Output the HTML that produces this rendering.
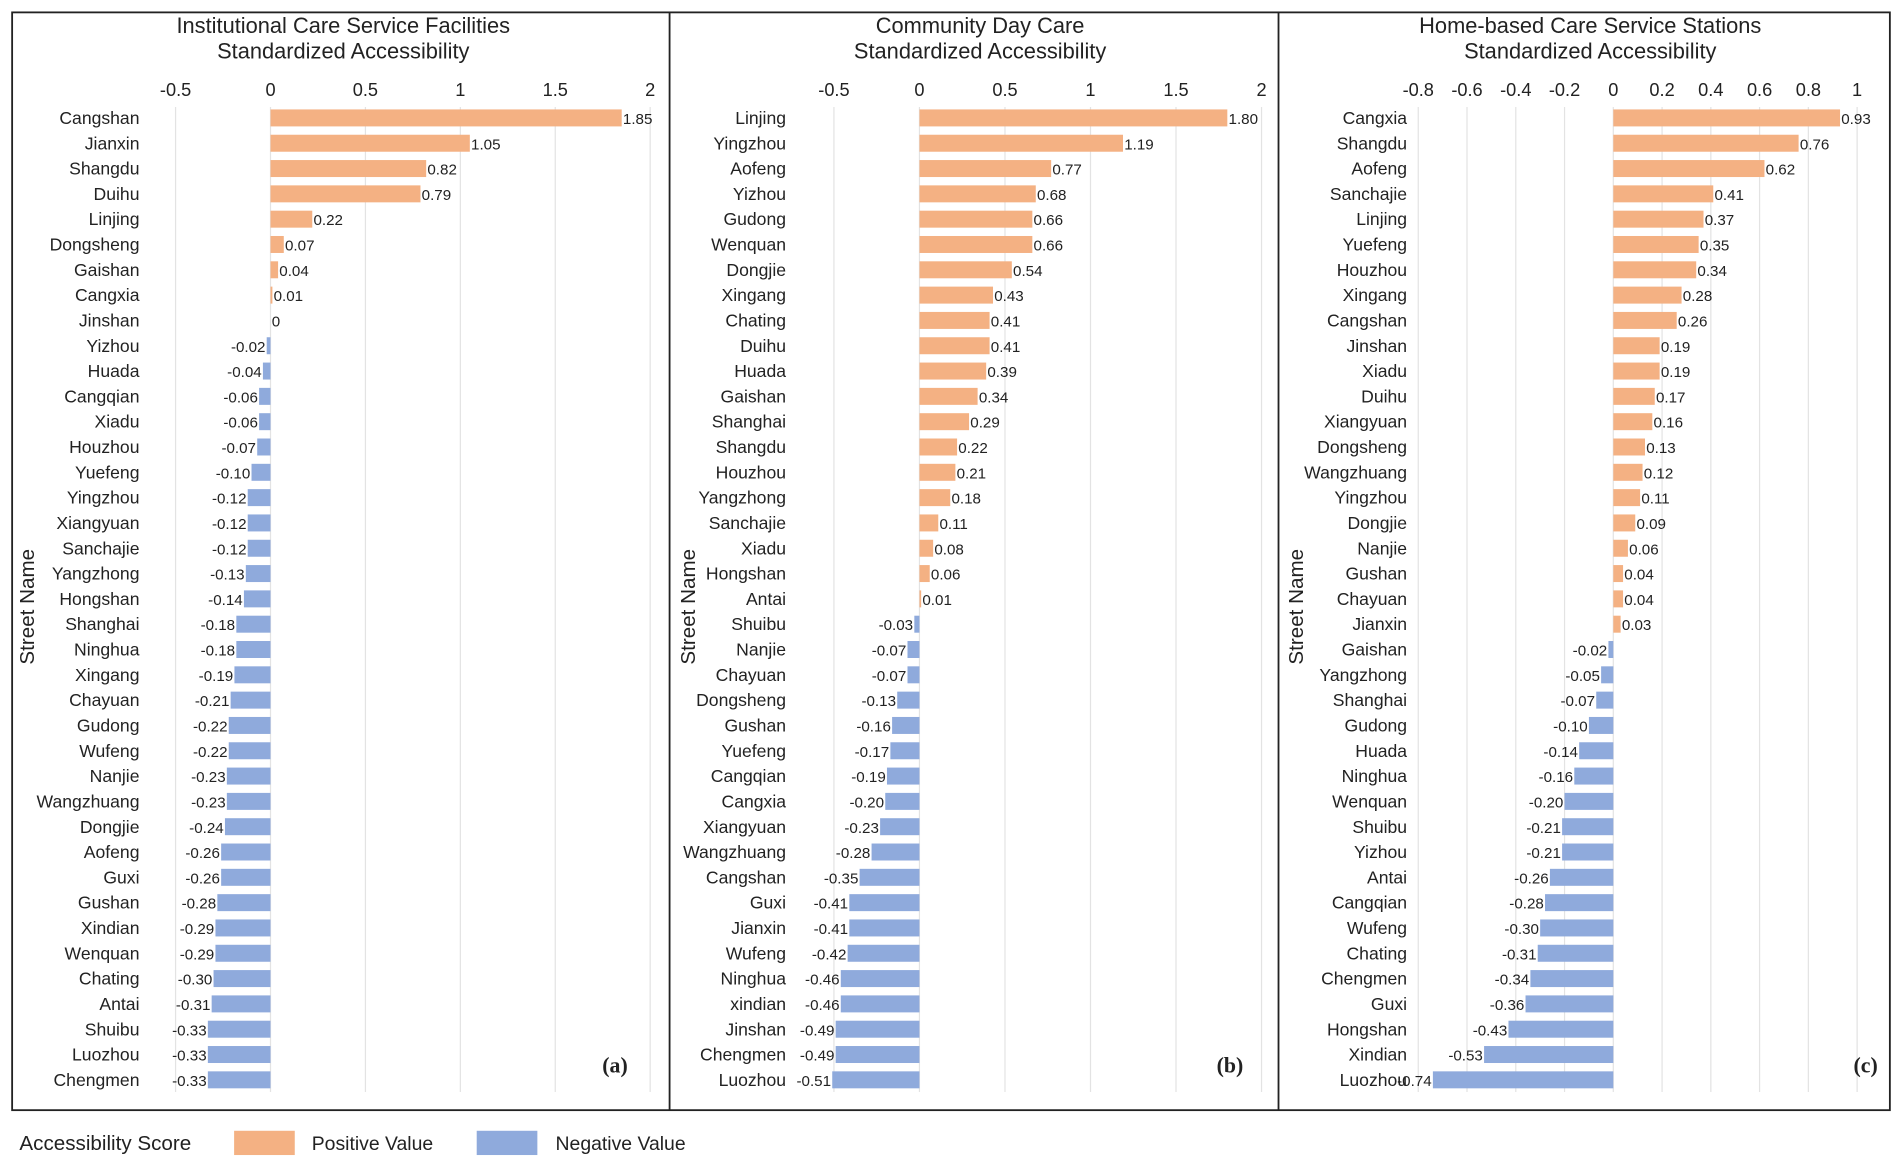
<!DOCTYPE html>
<html><head><meta charset="utf-8"><style>
html,body{margin:0;padding:0;background:#fff}
svg{display:block}
text{font-family:"Liberation Sans",sans-serif;fill:#222}
</style></head><body>
<svg id="chart" width="1902" height="1165" viewBox="0 0 1568 960" xmlns="http://www.w3.org/2000/svg">
<rect x="10" y="10" width="1548" height="905" fill="#fff" stroke="#222" stroke-width="1.5"/>
<line x1="552" y1="10" x2="552" y2="915" stroke="#222" stroke-width="1.5"/>
<line x1="1054" y1="10" x2="1054" y2="915" stroke="#222" stroke-width="1.5"/>
<g>
<text x="16" y="948" font-size="17">Accessibility Score</text>
<rect x="193" y="932" width="50" height="20" fill="#F4B183"/>
<text x="257" y="948" font-size="16">Positive Value</text>
<rect x="393" y="932" width="50" height="20" fill="#8FAADC"/>
<text x="458" y="948" font-size="16">Negative Value</text>
</g>
</svg>
<script>
const namesA=["Cangshan","Jianxin","Shangdu","Duihu","Linjing","Dongsheng","Gaishan","Cangxia","Jinshan","Yizhou","Huada","Cangqian","Xiadu","Houzhou","Yuefeng","Yingzhou","Xiangyuan","Sanchajie","Yangzhong","Hongshan","Shanghai","Ninghua","Xingang","Chayuan","Gudong","Wufeng","Nanjie","Wangzhuang","Dongjie","Aofeng","Guxi","Gushan","Xindian","Wenquan","Chating","Antai","Shuibu","Luozhou","Chengmen"];
const valuesA=[1.85,1.05,0.82,0.79,0.22,0.07,0.04,0.01,0,-0.02,-0.04,-0.06,-0.06,-0.07,-0.10,-0.12,-0.12,-0.12,-0.13,-0.14,-0.18,-0.18,-0.19,-0.21,-0.22,-0.22,-0.23,-0.23,-0.24,-0.26,-0.26,-0.28,-0.29,-0.29,-0.30,-0.31,-0.33,-0.33,-0.33];
const ticksA=[-0.5,0,0.5,1,1.5,2];
const namesB=["Linjing","Yingzhou","Aofeng","Yizhou","Gudong","Wenquan","Dongjie","Xingang","Chating","Duihu","Huada","Gaishan","Shanghai","Shangdu","Houzhou","Yangzhong","Sanchajie","Xiadu","Hongshan","Antai","Shuibu","Nanjie","Chayuan","Dongsheng","Gushan","Yuefeng","Cangqian","Cangxia","Xiangyuan","Wangzhuang","Cangshan","Guxi","Jianxin","Wufeng","Ninghua","xindian","Jinshan","Chengmen","Luozhou"];
const valuesB=[1.80,1.19,0.77,0.68,0.66,0.66,0.54,0.43,0.41,0.41,0.39,0.34,0.29,0.22,0.21,0.18,0.11,0.08,0.06,0.01,-0.03,-0.07,-0.07,-0.13,-0.16,-0.17,-0.19,-0.20,-0.23,-0.28,-0.35,-0.41,-0.41,-0.42,-0.46,-0.46,-0.49,-0.49,-0.51];
const ticksB=[-0.5,0,0.5,1,1.5,2];
const namesC=["Cangxia","Shangdu","Aofeng","Sanchajie","Linjing","Yuefeng","Houzhou","Xingang","Cangshan","Jinshan","Xiadu","Duihu","Xiangyuan","Dongsheng","Wangzhuang","Yingzhou","Dongjie","Nanjie","Gushan","Chayuan","Jianxin","Gaishan","Yangzhong","Shanghai","Gudong","Huada","Ninghua","Wenquan","Shuibu","Yizhou","Antai","Cangqian","Wufeng","Chating","Chengmen","Guxi","Hongshan","Xindian","Luozhou"];
const valuesC=[0.93,0.76,0.62,0.41,0.37,0.35,0.34,0.28,0.26,0.19,0.19,0.17,0.16,0.13,0.12,0.11,0.09,0.06,0.04,0.04,0.03,-0.02,-0.05,-0.07,-0.10,-0.14,-0.16,-0.20,-0.21,-0.21,-0.26,-0.28,-0.30,-0.31,-0.34,-0.36,-0.43,-0.53,-0.74];
const ticksC=[-0.8,-0.6,-0.4,-0.2,0,0.2,0.4,0.6,0.8,1];
const svg=document.getElementById('chart');
const NS='http://www.w3.org/2000/svg';
function mk(tag,attrs,txt){const e=document.createElementNS(NS,tag);for(const k in attrs)e.setAttribute(k,attrs[k]);if(txt!==undefined)e.textContent=txt;svg.appendChild(e);return e;}
function panel(id,names,values,ticks,cfg){
  const x=v=>cfg.x0+v*cfg.ppu;
  const y0=97,step=(890-97)/(names.length-1);
  const t1=mk('text',{x:cfg.tx,y:27,'font-size':18,'text-anchor':'middle'},cfg.title1);
  
  
  const t2=mk('text',{x:cfg.tx,y:48,'font-size':18,'text-anchor':'middle'},'Standardized Accessibility');
  
  
  ticks.forEach(t=>{
    const g=mk('line',{x1:x(t),x2:x(t),y1:88,y2:900,stroke:'#e3e3e3','stroke-width':1});
    
    
    const l=mk('text',{x:x(t),y:79,'font-size':15,'text-anchor':'middle'},String(t));
    
    
  });
  const yt=mk('text',{x:0,y:0,'font-size':17,'text-anchor':'middle',transform:'translate('+cfg.ytx+',500) rotate(-90)'},'Street Name');
  
  
  names.forEach((n,i)=>{
    const v=values[i],cy=y0+i*step;
    const lab=mk('text',{x:cfg.lx,y:cy+5,'font-size':14.5,'text-anchor':'end'},n);
    
    
    const xa=Math.min(x(0),x(v)),w=Math.abs(x(v)-x(0));
    const b=mk('rect',{x:xa,y:cy-7,width:Math.max(w,v===0?0:1),height:14,fill:v>=0?'#F4B183':'#8FAADC'});
    
    
    const txt=v===0?'0':v.toFixed(2);
    const d=mk('text',{x:v>=0?x(v)+1:x(v)-1,y:cy+5,'font-size':12.5,'text-anchor':v>=0?'start':'end'},txt);
    
    
  });
  const pl=mk('text',{x:cfg.plx,y:884,'font-size':18,'font-weight':'bold','text-anchor':'middle','font-family':'Liberation Serif, serif',style:'font-family:"Liberation Serif",serif'},'('+id+')');
  
  
}
panel('a',namesA,valuesA,ticksA,{x0:223,ppu:156.5,tx:283,lx:115,ytx:28,plx:507,title1:'Institutional Care Service Facilities'});
panel('b',namesB,valuesB,ticksB,{x0:758,ppu:141,tx:808,lx:648,ytx:573,plx:1014,title1:'Community Day Care'});
panel('c',namesC,valuesC,ticksC,{x0:1330,ppu:201,tx:1311,lx:1160,ytx:1074,plx:1538,title1:'Home-based Care Service Stations'});
</script>
</body></html>
